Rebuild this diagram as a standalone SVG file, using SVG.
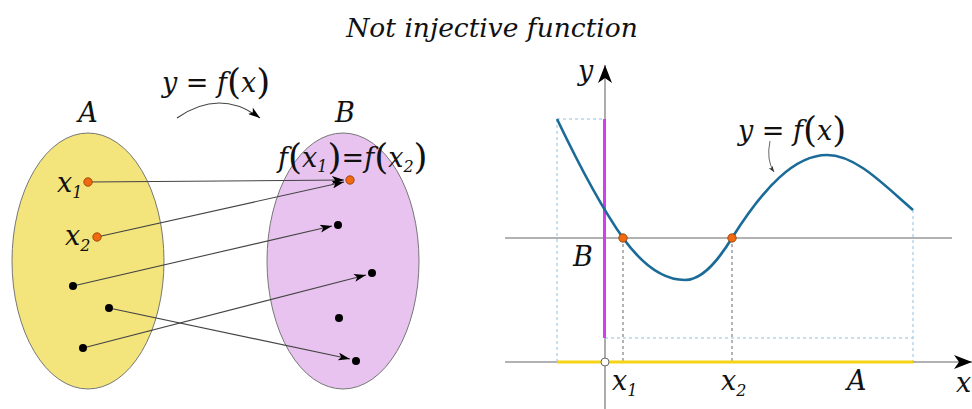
<svg xmlns="http://www.w3.org/2000/svg" width="972" height="409" viewBox="0 0 972 409">
<style>
text{font-family:'DejaVu Serif',serif;font-style:italic;fill:#111}
.lbl{font-size:27px}
.sub{font-size:16px}
.par{font-size:36px;font-style:normal;font-weight:300}
.map{stroke:#444;stroke-width:1.1;fill:none}
.dot{fill:#000}
.odot{fill:#f26a10;stroke:#8a3a00;stroke-width:0.8}
.dash{stroke:#8fc0e0;stroke-width:1;stroke-dasharray:3,3;fill:none}
.gdash{stroke:#666;stroke-width:1;stroke-dasharray:3,3;fill:none}
.axis{stroke:#999;stroke-width:1.6;fill:none}
</style>
<defs>
<marker id="ah" viewBox="0 0 12 8" refX="12" refY="4" markerWidth="12" markerHeight="8" markerUnits="userSpaceOnUse" orient="auto">
<path d="M0,0 L12,4 L0,8 L3,4 z" fill="#000"/>
</marker>
<marker id="ahs" viewBox="0 0 8 6" refX="8" refY="3" markerWidth="6" markerHeight="5" markerUnits="userSpaceOnUse" orient="auto">
<path d="M0,0 L8,3 L0,6 L2,3 z" fill="#333"/>
</marker>
<marker id="ax" viewBox="0 0 18 14" refX="18" refY="7" markerWidth="18" markerHeight="14" markerUnits="userSpaceOnUse" orient="auto">
<path d="M0,0 L18,7 L0,14 L5,7 z" fill="#000"/>
</marker>
</defs>

<text id="title" x="492" y="37" text-anchor="middle" style="font-size:26.5px">Not injective function</text>

<g id="setA">
<ellipse cx="88" cy="261" rx="76" ry="128" fill="#f3e47b" stroke="#777" stroke-width="1"/>
<text class="lbl" x="88" y="122" text-anchor="middle">A</text>
</g>
<g id="setB">
<ellipse cx="343" cy="261" rx="76" ry="128" fill="#e8c3ef" stroke="#777" stroke-width="1"/>
<text class="lbl" x="345" y="122" text-anchor="middle">B</text>
</g>

<g id="maplabel">
<text class="lbl" x="162" y="92">y = f<tspan class="par" dy="2">(</tspan><tspan dy="-2">x</tspan><tspan class="par" dy="2">)</tspan></text>
</g>
<g id="fx1fx2">
<text class="lbl" x="278" y="167">f<tspan class="par" dy="2">(</tspan><tspan dy="-2">x</tspan><tspan class="sub" dy="5">1</tspan><tspan class="par" dy="-3">)</tspan><tspan dy="-2">=f</tspan><tspan class="par" dy="2">(</tspan><tspan dy="-2">x</tspan><tspan class="sub" dy="5">2</tspan><tspan class="par" dy="-3">)</tspan></text>
</g>

<g id="connectors">
<path d="M177,118 Q220,88 260,118" stroke="#444" stroke-width="1.2" fill="none" marker-end="url(#ah)"/>
<line class="map" x1="88" y1="182" x2="344" y2="180" marker-end="url(#ah)"/>
<line class="map" x1="97" y1="237" x2="344" y2="182" marker-end="url(#ah)"/>
<line class="map" x1="73" y1="286" x2="332" y2="226" marker-end="url(#ah)"/>
<line class="map" x1="83" y1="348" x2="366" y2="275" marker-end="url(#ah)"/>
<line class="map" x1="109" y1="308" x2="350" y2="359" marker-end="url(#ah)"/>
<path d="M770,141 Q766,160 774,172" stroke="#555" stroke-width="0.9" fill="none" marker-end="url(#ahs)"/>
</g>

<g id="pointsA">
<circle class="odot" cx="88" cy="182" r="4.2"/>
<circle class="odot" cx="97" cy="237" r="4.2"/>
<circle class="dot" cx="73" cy="286" r="4"/>
<circle class="dot" cx="109" cy="308" r="4"/>
<circle class="dot" cx="83" cy="348" r="4"/>
<text class="lbl" x="57" y="192">x<tspan class="sub" dy="6">1</tspan></text>
<text class="lbl" x="65" y="245">x<tspan class="sub" dy="6">2</tspan></text>
</g>
<g id="pointsB">
<circle class="odot" cx="350" cy="180" r="4.2"/>
<circle class="dot" cx="338" cy="225" r="4"/>
<circle class="dot" cx="372" cy="273" r="4"/>
<circle class="dot" cx="339" cy="318" r="4"/>
<circle class="dot" cx="356" cy="361" r="4"/>
</g>

<g id="graph">
<path class="dash" d="M557,119 H604 M557,119 V362 M605,338 H913 M913,210 V362"/>
<path class="gdash" d="M623,238 V362 M732,238 V362"/>
<line class="axis" x1="505" y1="238" x2="952" y2="238"/>
<line class="axis" x1="505" y1="362" x2="972" y2="362" marker-end="url(#ax)"/>
<line class="axis" x1="605" y1="409" x2="605" y2="65" marker-end="url(#ax)"/>
<line x1="557" y1="362" x2="913" y2="362" stroke="#f5d316" stroke-width="3"/>
<line x1="604.5" y1="119" x2="604.5" y2="338" stroke="#d23ef0" stroke-width="3"/>
<path d="M557,119 C579,165 601,207 623,238 C644,267 664,280 685,280 C701,280 716,264 732,238 C764,187 795,155 827,155 C856,155 884,185 913,210" stroke="#1a6b98" stroke-width="2.6" fill="none"/>
<circle class="odot" cx="623" cy="238" r="4.2"/>
<circle class="odot" cx="732" cy="238" r="4.2"/>
<circle cx="605" cy="362" r="4" fill="#fff" stroke="#666" stroke-width="1"/>
<text class="lbl" x="578" y="80">y</text>
<text class="lbl" x="573" y="266">B</text>
<text class="lbl" x="612" y="390">x<tspan class="sub" dy="6">1</tspan></text>
<text class="lbl" x="721" y="390">x<tspan class="sub" dy="6">2</tspan></text>
<text class="lbl" x="847" y="390">A</text>
<text class="lbl" x="956" y="392">x</text>
<text class="lbl" x="738" y="140">y = f<tspan class="par" dy="2">(</tspan><tspan dy="-2">x</tspan><tspan class="par" dy="2">)</tspan></text>
</g>
</svg>
